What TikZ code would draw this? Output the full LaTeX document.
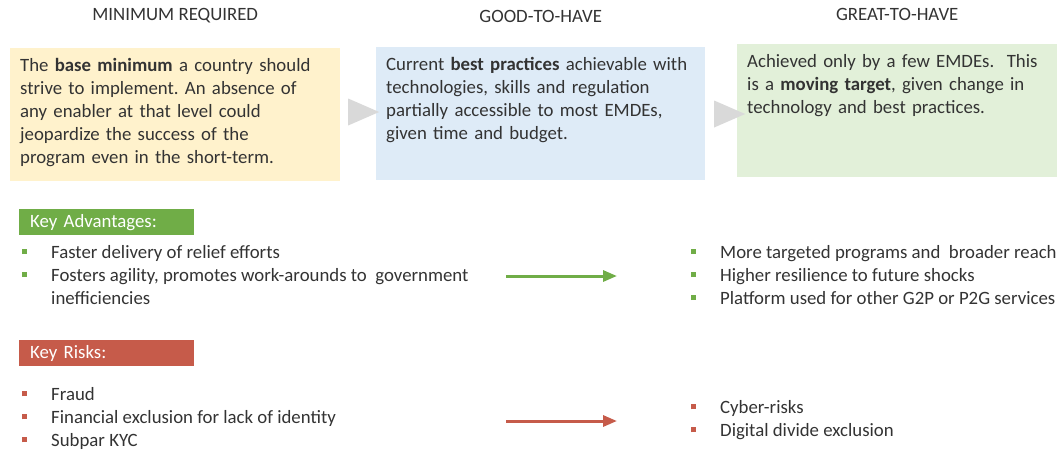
\documentclass[tikz,border=0pt]{standalone}
\usepackage{fontspec}
\setmainfont{Carlito}
\frenchspacing
\usetikzlibrary{arrows.meta,shapes.geometric}
\definecolor{yellowbox}{HTML}{FFF2CC}
\definecolor{bluebox}{HTML}{DEEBF7}
\definecolor{greenbox}{HTML}{E2F0D9}
\definecolor{advgreen}{HTML}{70AD47}
\definecolor{riskred}{HTML}{C65B4A}
\definecolor{txt}{HTML}{333333}
\newcommand{\sqb}[1]{\textcolor{#1}{\rule[0.2em]{5pt}{5pt}}}
\begin{document}
\begin{tikzpicture}[x=1pt,y=-1pt,
  every node/.style={font=\fontsize{18.8}{23}\selectfont,text=txt},
  level/.style={anchor=north west,align=left,inner xsep=10pt,inner ysep=10pt,text height=13pt,text depth=100pt},
  keylabel/.style={anchor=north west,minimum height=26pt,text width=153pt,inner xsep=11pt,inner ysep=0pt,text=white},
  list/.style={anchor=base west,inner sep=0pt},
  tri/.style={isosceles triangle,isosceles triangle stretches,fill=black!15,inner sep=0pt,minimum width=27pt,minimum height=31pt},
  goes/.style={line width=3pt,-{Triangle[length=14pt,width=11pt]}}]
\useasboundingbox (0,0) rectangle (1057,451);
\foreach \c/\x/\y/\w/\h/\s/\t [count=\n] in
  {yellowbox/10/48/310/MINIMUM REQUIRED/32/{The \textbf{base minimum} a country should\\strive to implement. An absence of\\any enabler at that level could\\jeopardize the success of the\\program even in the short-term.},
   bluebox/376/47/309/GOOD-TO-HAVE/31/{Current \textbf{best practices} achievable with\\technologies, skills and regulation\\partially accessible to most EMDEs,\\given time and budget.},
   greenbox/737/44/300/GREAT-TO-HAVE/30/{Achieved only by a few EMDEs.\ \ This\\is a \textbf{moving target}, given change in\\technology and best practices.}}
  {
  \node[level,fill=\c,text width=\w pt] (N\n) at (\x,\y) {\t};
  \node (H\n) at ([yshift=\s pt]N\n.north) {\h};
  }
\node[tri] (T1) at (357,112) {};
\node[tri] (T2) at (723,114) {};

\node[keylabel,fill=advgreen] (KA) at (19,209) {Key Advantages:};
\node[list] (AL) at (22,258) {\begin{tabular}[t]{@{}p{29pt}@{}p{440pt}@{}}
  \sqb{advgreen}&Faster delivery of relief efforts\\
  \sqb{advgreen}&Fosters agility, promotes work-arounds to\ \ government\newline inefficiencies
  \end{tabular}};
\node[list] (AR) at (691,258) {\begin{tabular}[t]{@{}p{29pt}@{}l@{}}
  \sqb{advgreen}&More targeted programs and\ \ broader reach\\
  \sqb{advgreen}&Higher resilience to future shocks\\
  \sqb{advgreen}&Platform used for other G2P or P2G services
  \end{tabular}};
\coordinate (AA) at (506,276);
\coordinate (AB) at (617,276);
\draw[goes,advgreen] (AA) -- (AB);

\node[keylabel,fill=riskred] (KR) at (19,340) {Key Risks:};
\node[list] (RL) at (22,400) {\begin{tabular}[t]{@{}p{29pt}@{}l@{}}
  \sqb{riskred}&Fraud\\
  \sqb{riskred}&Financial exclusion for lack of identity\\
  \sqb{riskred}&Subpar KYC
  \end{tabular}};
\node[list] (RR) at (691,413) {\begin{tabular}[t]{@{}p{29pt}@{}l@{}}
  \sqb{riskred}&Cyber-risks\\
  \sqb{riskred}&Digital divide exclusion
  \end{tabular}};
\coordinate (RA) at (506,421);
\coordinate (RB) at (617,421);
\draw[goes,riskred] (RA) -- (RB);

\end{tikzpicture}
\end{document}
